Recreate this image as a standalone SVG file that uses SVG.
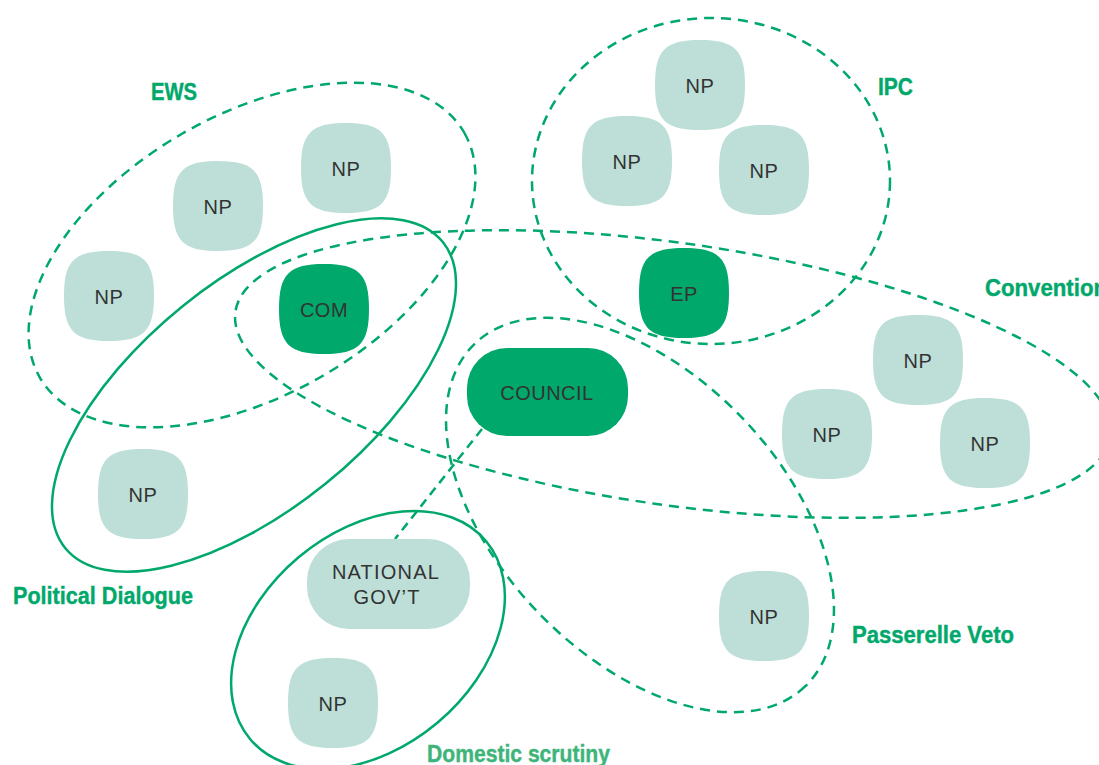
<svg xmlns="http://www.w3.org/2000/svg" width="1099" height="765" viewBox="0 0 1099 765">
<style>
.grp{fill:none;stroke:#00a86b;stroke-width:2.5}
.dash{stroke-dasharray:10 7}
.np{fill:#bddfd8}
.dk{fill:#00a86b}
.t{font-family:"Liberation Sans",Arial,sans-serif;font-size:20px;fill:#333;text-anchor:middle;letter-spacing:0.5px}
.lbl{font-family:"Liberation Sans",Arial,sans-serif;font-weight:bold;font-size:23px;fill:#00a86b;stroke:#00a86b;stroke-width:0.4}
</style>
<defs>
<path id="sq" d="M0,-45 C35,-45 45,-35 45,0 C45,35 35,45 0,45 C-35,45 -45,35 -45,0 C-45,-35 -35,-45 0,-45 Z"/>
</defs>
<rect width="1099" height="765" fill="#fff"/>
<g id="groups">
<ellipse id="g-ews" class="grp dash" cx="252" cy="255" rx="245" ry="140" transform="rotate(-30 252 255)"/>
<ellipse id="g-pd" class="grp" cx="254" cy="395" rx="243" ry="114" transform="rotate(-39 254 395)"/>
<ellipse id="g-conv" class="grp dash" cx="673" cy="374" rx="442" ry="131" transform="rotate(8.1 673 374)"/>
<ellipse id="g-ipc" class="grp dash" cx="711" cy="181" rx="179" ry="163"/>
<ellipse id="g-pv" class="grp dash" cx="640" cy="515" rx="238" ry="141" transform="rotate(46 640 515)"/>
<ellipse id="g-ds" class="grp" cx="368" cy="640" rx="154" ry="108" transform="rotate(-40 368 640)"/>
</g>
<g id="connectors">
<line x1="482" y1="429" x2="395" y2="539" stroke="#00a86b" stroke-width="2.5" stroke-dasharray="9 6"/>
</g>
<g id="n-ews1"><use href="#sq" class="np" x="109" y="296"/><text class="t" x="109" y="304">NP</text></g>
<g id="n-ews2"><use href="#sq" class="np" x="218" y="206"/><text class="t" x="218" y="214">NP</text></g>
<g id="n-ews3"><use href="#sq" class="np" x="346" y="168"/><text class="t" x="346" y="176">NP</text></g>
<g id="n-com"><use href="#sq" class="dk" x="324" y="309"/><text class="t" x="324" y="317">COM</text></g>
<g id="n-ipc1"><use href="#sq" class="np" x="700" y="85"/><text class="t" x="700" y="93">NP</text></g>
<g id="n-ipc2"><use href="#sq" class="np" x="627" y="161"/><text class="t" x="627" y="169">NP</text></g>
<g id="n-ipc3"><use href="#sq" class="np" x="764" y="170"/><text class="t" x="764" y="178">NP</text></g>
<g id="n-ep"><use href="#sq" class="dk" x="684" y="293"/><text class="t" x="684" y="301">EP</text></g>
<g id="n-council"><rect class="dk" x="467" y="348" width="161" height="88" rx="40"/><text class="t" x="547" y="400">COUNCIL</text></g>
<g id="n-conv1"><use href="#sq" class="np" x="918" y="360"/><text class="t" x="918" y="368">NP</text></g>
<g id="n-conv2"><use href="#sq" class="np" x="827" y="434"/><text class="t" x="827" y="442">NP</text></g>
<g id="n-conv3"><use href="#sq" class="np" x="985" y="443"/><text class="t" x="985" y="451">NP</text></g>
<g id="n-pv"><use href="#sq" class="np" x="764" y="616"/><text class="t" x="764" y="624">NP</text></g>
<g id="n-pd"><use href="#sq" class="np" x="143" y="494"/><text class="t" x="143" y="502">NP</text></g>
<g id="n-natgov"><rect class="np" x="307" y="539" width="163" height="90" rx="42"/><text class="t" x="386" y="579" style="letter-spacing:1.2px">NATIONAL</text><text class="t" x="387" y="604" style="letter-spacing:1.2px">GOV’T</text></g>
<g id="n-ds"><use href="#sq" class="np" x="333" y="703"/><text class="t" x="333" y="711">NP</text></g>
<g id="labels">
<text class="lbl" x="151" y="100" textLength="46" lengthAdjust="spacingAndGlyphs">EWS</text>
<text class="lbl" x="878" y="95" textLength="35" lengthAdjust="spacingAndGlyphs">IPC</text>
<text class="lbl" x="985" y="296" textLength="122" lengthAdjust="spacingAndGlyphs">Convention</text>
<text class="lbl" x="13" y="604" textLength="180" lengthAdjust="spacingAndGlyphs">Political Dialogue</text>
<text class="lbl" x="852" y="643" textLength="162" lengthAdjust="spacingAndGlyphs">Passerelle Veto</text>
<text class="lbl" x="427" y="762" textLength="183" lengthAdjust="spacingAndGlyphs" style="fill:#3db57a;stroke:#3db57a">Domestic scrutiny</text>
</g>
</svg>
